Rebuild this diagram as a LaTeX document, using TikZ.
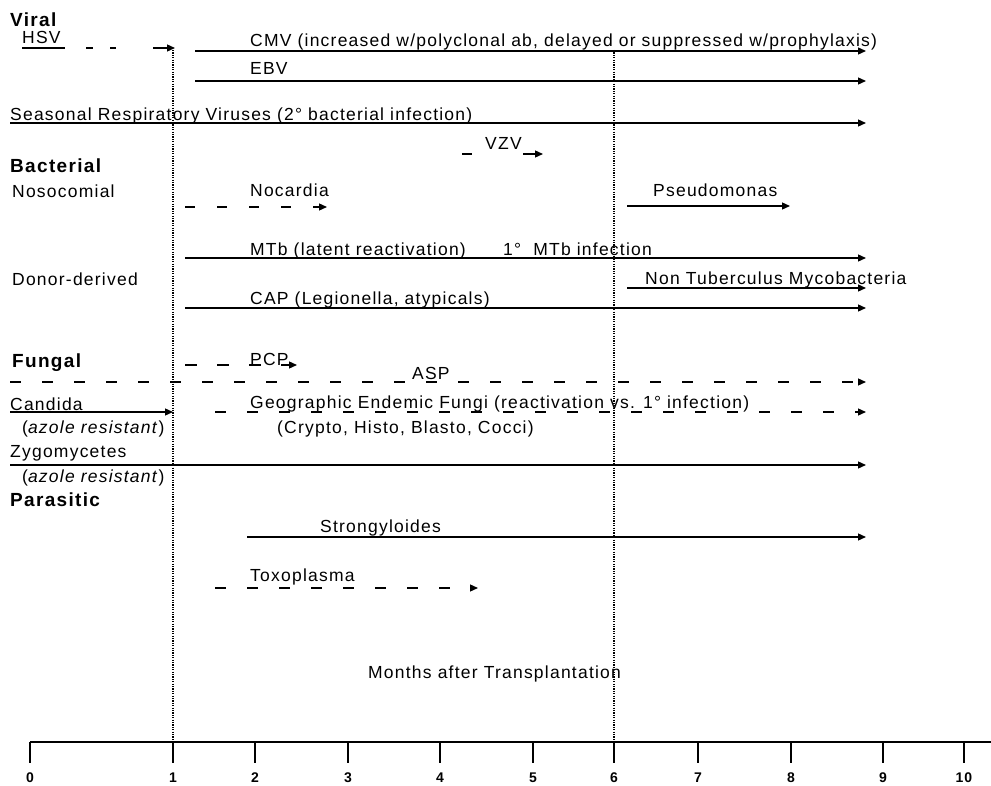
\documentclass[tikz,border=0pt]{standalone}
\usepackage{fontspec}
\setmainfont{Liberation Sans}[LetterSpace=7]
\usetikzlibrary{arrows.meta}
\begin{document}
\begin{tikzpicture}[x=1pt,y=-1pt,
  txt/.style={anchor=base west, inner sep=0pt, font=\fontsize{17.5}{20}\selectfont},
  hd/.style={anchor=base west, inner sep=0pt, font=\fontsize{19}{22}\selectfont\bfseries},
  bar/.style={line width=1.3pt, -{Triangle[length=8pt,width=7pt]}},
  dbar/.style={bar, dash pattern=on 11pt off 21pt},
  vdot/.style={line width=1.2pt, dash pattern=on 1.2pt off 1.2pt},
  tck/.style={line width=1.3pt},
  num/.style={anchor=base, inner sep=0pt, font=\fontsize{14}{16}\selectfont\bfseries}]
\fill[white] (0,0) rectangle (991,786);
\useasboundingbox (0,0) rectangle (991,786);

% dotted month markers
\draw[vdot] (173,50) -- (173,742);
\draw[vdot] (614,50) -- (614,742);

% Viral
\node[hd] (viral) at (10,27) {Viral};
\node[txt] (hsv) at (22,44) {HSV};
\draw[bar, dash pattern=on 43pt off 21pt on 7pt off 17pt on 6pt off 37pt on 40pt] (22,48) -- (175,48);
\node[txt] (cmv) at (250,47) {CMV (increased w/polyclonal ab, delayed or suppressed w/prophylaxis)};
\draw[bar] (195,51) -- (866,51);
\node[txt] (ebv) at (250,75) {EBV};
\draw[bar] (195,81) -- (866,81);
\node[txt] (srv) at (10,121) {Seasonal Respiratory Viruses (2° bacterial infection)};
\draw[bar] (10,123) -- (866,123);
\node[txt] (vzv) at (485,150) {VZV};
\draw[bar, dash pattern=on 10pt off 51pt on 30pt] (462,154) -- (543,154);

% Bacterial
\node[hd] (bact) at (10,173) {Bacterial};
\node[txt] (noso) at (12,198) {Nosocomial};
\node[txt] (noc) at (250,197) {Nocardia};
\draw[dbar, dash pattern=on 10pt off 22pt] (185,207) -- (327,207);
\node[txt] (pse) at (653,197) {Pseudomonas};
\draw[bar] (627,206) -- (790,206);
\node[txt] (mtb) at (250,256) {MTb (latent reactivation)};
\node[txt] (mtb1) at (503,256) {1°\ \ MTb infection};
\draw[bar] (185,258) -- (866,258);
\node[txt] (donor) at (12,286) {Donor-derived};
\node[txt] (ntm) at (645,285) {Non Tuberculus Mycobacteria};
\draw[bar] (627,288) -- (866,288);
\node[txt] (cap) at (250,305) {CAP (Legionella, atypicals)};
\draw[bar] (185,308) -- (866,308);

% Fungal
\node[hd] (fung) at (12,368) {Fungal};
\node[txt] (pcp) at (250,366) {PCP};
\draw[dbar, dash pattern=on 12pt off 20pt] (185,365) -- (297,365);
\node[txt] (asp) at (412,380) {ASP};
\draw[dbar] (10,382) -- (866,382);
\node[txt] (cand) at (10,410) {Candida};
\draw[bar] (10,412) -- (173,412);
\node[txt] (az1) at (22,433) {(\textit{azole resistant})};
\node[txt] (geo) at (250,408) {Geographic Endemic Fungi (reactivation vs. 1° infection)};
\node[txt] (geo2) at (277,433) {(Crypto, Histo, Blasto, Cocci)};
\draw[dbar] (215,412) -- (866,412);
\node[txt] (zygo) at (10,457) {Zygomycetes};
\draw[bar] (10,465) -- (866,465);
\node[txt] (az2) at (22,482) {(\textit{azole resistant})};

% Parasitic
\node[hd] (para) at (10,506) {Parasitic};
\node[txt] (stro) at (320,532) {Strongyloides};
\draw[bar] (247,537) -- (866,537);
\node[txt] (toxo) at (250,581) {Toxoplasma};
\draw[dbar] (215,588) -- (478,588);

% axis
\node[txt] (months) at (368,678) {Months after Transplantation};
\draw[tck] (30,742) -- (991,742);
\foreach \xx/\lab in {30/0,173/1,255/2,348/3,440/4,533/5,614/6,698/7,791/8,883/9,964/10}{
  \draw[tck] (\xx,742) -- (\xx,763);
  \node[num] (t\lab) at (\xx,782) {\lab};
}
\end{tikzpicture}
\end{document}
